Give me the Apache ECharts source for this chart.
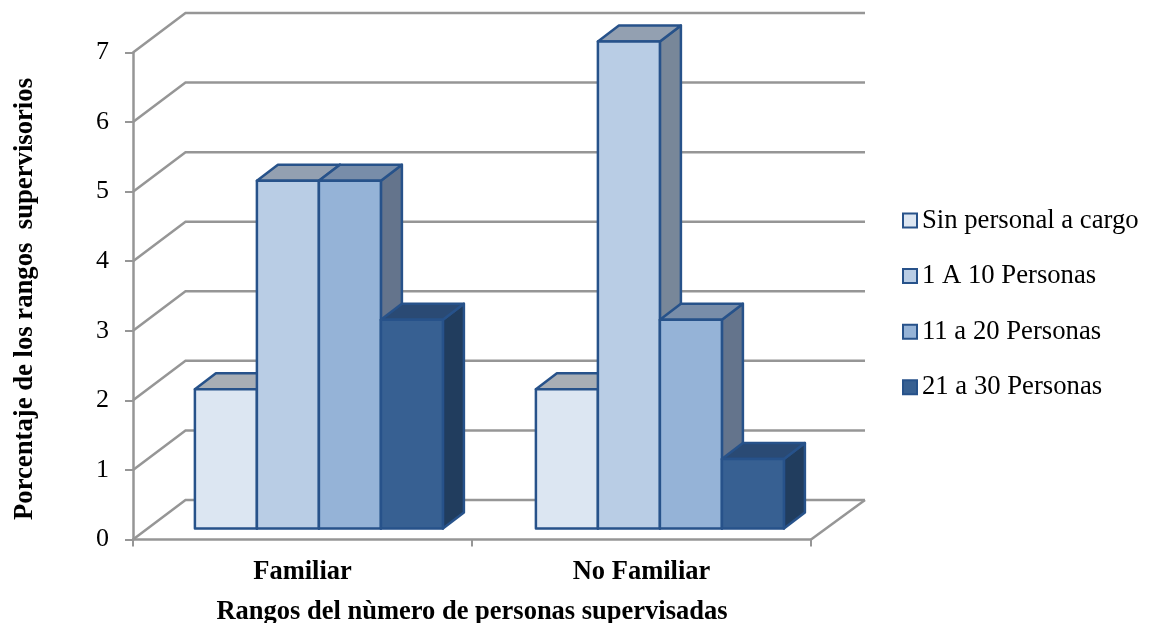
<!DOCTYPE html>
<html>
<head>
<meta charset="utf-8">
<style>html,body{margin:0;padding:0;background:#fff}#chart{width:1150px;height:623px}</style>
<script src="https://cdn.jsdelivr.net/npm/echarts@6/dist/echarts.min.js"></script>
</head>
<body>
<div id="chart"></div>
<script>
// Chart data
const categories = ['Familiar', 'No Familiar'];
const seriesNames = ['Sin personal a cargo', '1 A 10 Personas', '11 a 20 Personas', '21 a 30 Personas'];
const sinPersonal = [2, 2];
const unoADiez = [5, 7];
const onceAVeinte = [5, 3];
const veintiunoATreinta = [3, 1];
const gridValues = [0, 1, 2, 3, 4, 5, 6, 7];

// Face colours of each box: front, top, side
const faces = [
  { front: '#DCE6F2', top: '#A8AEB5', side: '#8C97A3' },
  { front: '#B9CDE5', top: '#93A0B1', side: '#788799' },
  { front: '#95B3D7', top: '#788DA9', side: '#64748C' },
  { front: '#376092', top: '#2A4A74', side: '#213D5E' }
];
const edgeColor = '#27528A';
const wallColor = '#969696';
const lineW = 2.5;
const serif = '"Liberation Serif", "Times New Roman", serif';

// Pseudo-3D projection: full floor depth, and the box depth and inset inside it.
// The slight perspective pushes the right side a little further out.
const floorDxLeft = 52.5, floorDxRight = 54, floorDy = 39.5;
const boxDx = 21, boxDy = 16;
const insetDx = [16.4, 18.4], insetDy = 11;
const barShare = 62 / 339;

function wallLine(params, api) {
  const cs = params.coordSys;
  const y = api.coord([0, api.value(1)])[1];
  const right = cs.x + cs.width;
  const style = { stroke: wallColor, lineWidth: lineW, fill: null };
  const children = [{
    type: 'polyline',
    shape: { points: [[cs.x, y], [cs.x + floorDxLeft, y - floorDy], [right + floorDxRight, y - floorDy]] },
    style
  }];
  if (api.value(1) === 0) {
    children.push({
      type: 'line',
      shape: { x1: right, y1: y, x2: right + floorDxRight, y2: y - floorDy },
      style
    });
  }
  return { type: 'group', children };
}

function boxRenderer(seriesIndex) {
  return function (params, api) {
    const band = api.size([1, 0])[0];
    const w = band * barShare;
    const base = api.coord([api.value(0), 0]);
    const head = api.coord([api.value(0), api.value(1)]);
    const x0 = base[0] + insetDx[api.value(0)] + (seriesIndex - 2) * w;
    const x1 = x0 + w;
    const yB = base[1] - insetDy;
    const yT = head[1] - insetDy;
    const edge = { stroke: edgeColor, lineWidth: lineW, lineJoin: 'round' };
    const c = faces[seriesIndex];
    return {
      type: 'group',
      children: [
        { type: 'polygon',
          shape: { points: [[x1, yB], [x1 + boxDx, yB - boxDy], [x1 + boxDx, yT - boxDy], [x1, yT]] },
          style: Object.assign({ fill: c.side }, edge) },
        { type: 'polygon',
          shape: { points: [[x0, yT], [x0 + boxDx, yT - boxDy], [x1 + boxDx, yT - boxDy], [x1, yT]] },
          style: Object.assign({ fill: c.top }, edge) },
        { type: 'rect',
          shape: { x: x0, y: yT, width: w, height: yB - yT },
          style: Object.assign({ fill: c.front }, edge) }
      ]
    };
  };
}

const columns = [sinPersonal, unoADiez, onceAVeinte, veintiunoATreinta];

const option = {
  animation: false,
  backgroundColor: '#fff',
  grid: { left: 133, top: 52.5, width: 678, height: 487, containLabel: false, outerBoundsMode: 'none' },
  legend: {
    orient: 'vertical',
    left: 902,
    top: 207,
    padding: 0,
    itemWidth: 14,
    itemHeight: 14,
    itemGap: 28.6,
    selectedMode: false,
    textStyle: { fontFamily: serif, fontSize: 26.7, color: '#000' },
    data: seriesNames.map((name, i) => ({
      name,
      icon: 'rect',
      itemStyle: { color: faces[i].front, borderColor: edgeColor, borderWidth: 2 }
    }))
  },
  xAxis: {
    type: 'category',
    data: categories,
    name: 'Rangos del nùmero de personas supervisadas',
    nameLocation: 'middle',
    nameGap: 59,
    nameTextStyle: { fontFamily: serif, fontWeight: 'bold', fontSize: 26.5, color: '#000' },
    axisLine: { lineStyle: { color: wallColor, width: lineW } },
    axisTick: { show: true, length: 7, lineStyle: { color: wallColor, width: 2 } },
    axisLabel: { fontFamily: serif, fontWeight: 'bold', fontSize: 26.5, color: '#000', margin: 19 },
    splitLine: { show: false }
  },
  yAxis: {
    type: 'value',
    min: 0,
    max: 7,
    interval: 1,
    name: 'Porcentaje de los rangos  supervisorios',
    nameLocation: 'middle',
    nameGap: 94,
    nameTextStyle: { fontFamily: serif, fontWeight: 'bold', fontSize: 26.7, color: '#000', padding: [0, 6, 0, 0] },
    axisLine: { show: true, lineStyle: { color: wallColor, width: lineW } },
    axisTick: { show: true, length: 8, lineStyle: { color: wallColor, width: 2 } },
    axisLabel: { fontFamily: serif, fontSize: 26, color: '#000', margin: 24 },
    splitLine: { show: false }
  },
  series: [
    {
      type: 'custom',
      name: 'walls',
      renderItem: wallLine,
      silent: true,
      z: 1,
      data: gridValues.map(v => [0, v])
    }
  ].concat(columns.map((values, i) => ({
    type: 'custom',
    name: seriesNames[i],
    renderItem: boxRenderer(i),
    itemStyle: { color: faces[i].front },
    z: 2 + i,
    data: values.map((v, c) => [c, v])
  })))
};

echarts.init(document.getElementById('chart'), null, { renderer: 'canvas' }).setOption(option);
</script>
</body>
</html>
